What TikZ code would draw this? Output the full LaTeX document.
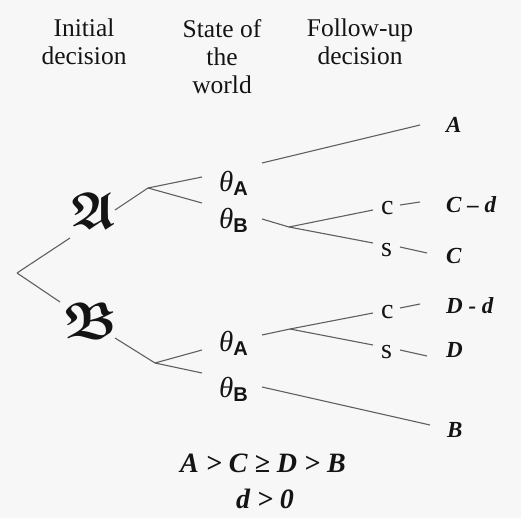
\documentclass[tikz,border=0pt]{standalone}
\usepackage{amssymb}
\usepackage{bm}
\usepackage{fontspec}
\setmainfont{Liberation Serif}
\newfontfamily\arialf{Liberation Sans}
\definecolor{bgc}{RGB}{247,247,247}
\definecolor{linec}{RGB}{95,95,95}
\definecolor{txtc}{RGB}{20,20,20}
\tikzset{
  conn/.style={draw=linec, line width=1.1pt},
  header/.style={anchor=north, inner sep=0pt, align=center, text=txtc,
    font=\fontsize{25.5}{28}\selectfont},
  leaf/.style={anchor=base west, inner sep=0pt, text=txtc,
    font=\fontsize{23}{26}\selectfont\bfseries\itshape},
  state/.style={anchor=base west, inner sep=0pt, text=txtc},
  act/.style={anchor=base west, inner sep=0pt, text=txtc,
    font=\fontsize{28}{30}\selectfont},
  frak/.style={anchor=center, inner sep=0pt, text=txtc},
  cond/.style={anchor=base, inner sep=0pt, text=txtc,
    font=\fontsize{28}{30}\selectfont\bfseries\itshape}
}
\newcommand{\thsub}[1]{{\fontsize{29}{30}\selectfont\itshape θ}\raisebox{-4pt}{\arialf\bfseries\fontsize{20}{22}\selectfont #1}}
\begin{document}
\begin{tikzpicture}[x=1pt,y=-1pt]
\fill[bgc] (0,0) rectangle (521,518);
\useasboundingbox (0,0) rectangle (521,518);

% headers
\node[header] (h1) at (84,19) {Initial\\decision};
\node[header] (h2) at (222,19) {State of\\the\\world};
\node[header] (h3) at (360,19) {Follow-up\\decision};

% initial decisions
\node[frak] (fA) at (94,211) {\fontsize{52}{54}\selectfont$\bm{\mathfrak{A}}$};
\node[frak] (fB) at (91,321) {\fontsize{52}{54}\selectfont$\bm{\mathfrak{B}}$};

% states
\node[state] (tA1) at (219,192) {\thsub{A}};
\node[state] (tB1) at (219,229) {\thsub{B}};
\node[state] (tA2) at (219,351) {\thsub{A}};
\node[state] (tB2) at (219,397) {\thsub{B}};

% follow-up acts
\node[act] (c1) at (381,215) {c};
\node[act] (s1) at (381,256) {s};
\node[act] (c2) at (381,318) {c};
\node[act] (s2) at (381,358) {s};

% payoffs
\node[leaf] (pA) at (446,133) {A};
\node[leaf] (pCd) at (446,213) {C – d};
\node[leaf] (pC) at (446,263) {C};
\node[leaf] (pDd) at (446,313) {D - d};
\node[leaf] (pD) at (446,357) {D};
\node[leaf] (pB) at (447,437) {B};

% conditions
\node[cond] (k1) at (263,472) {A > C ≥ D > B};
\node[cond] (k2) at (265,508) {d > 0};

% coordinates
\coordinate (root) at (17,273);
\coordinate (rA) at (70,238);
\coordinate (rB) at (60,302);
\coordinate (aOut) at (115,210);
\coordinate (bA) at (148,188);
\coordinate (bOut) at (115,338);
\coordinate (bB) at (155,363);
\coordinate (a1) at (202,177);
\coordinate (a2) at (202,203);
\coordinate (b1) at (202,350);
\coordinate (b2) at (202,373);
\coordinate (tA1o) at (262,163);
\coordinate (pAi) at (420,125);
\coordinate (tB1o) at (262,219);
\coordinate (bC) at (289,227);
\coordinate (c1i) at (373,210);
\coordinate (s1i) at (373,243);
\coordinate (c1o) at (400,205);
\coordinate (pCdi) at (420,202);
\coordinate (s1o) at (400,247);
\coordinate (pCi) at (427,253);
\coordinate (tA2o) at (262,335);
\coordinate (bD) at (290,329);
\coordinate (c2i) at (373,313);
\coordinate (s2i) at (373,345);
\coordinate (c2o) at (400,308);
\coordinate (pDdi) at (420,304);
\coordinate (s2o) at (400,350);
\coordinate (pDi) at (427,356);
\coordinate (tB2o) at (262,387);
\coordinate (pBi) at (430,425);

\draw[conn] (root) -- (rA);
\draw[conn] (root) -- (rB);
\draw[conn] (aOut) -- (bA);
\draw[conn] (bA) -- (a1);
\draw[conn] (bA) -- (a2);
\draw[conn] (bOut) -- (bB);
\draw[conn] (bB) -- (b1);
\draw[conn] (bB) -- (b2);
\draw[conn] (tA1o) -- (pAi);
\draw[conn] (tB1o) -- (bC);
\draw[conn] (bC) -- (c1i);
\draw[conn] (bC) -- (s1i);
\draw[conn] (c1o) -- (pCdi);
\draw[conn] (s1o) -- (pCi);
\draw[conn] (tA2o) -- (bD);
\draw[conn] (bD) -- (c2i);
\draw[conn] (bD) -- (s2i);
\draw[conn] (c2o) -- (pDdi);
\draw[conn] (s2o) -- (pDi);
\draw[conn] (tB2o) -- (pBi);
\end{tikzpicture}
\end{document}
